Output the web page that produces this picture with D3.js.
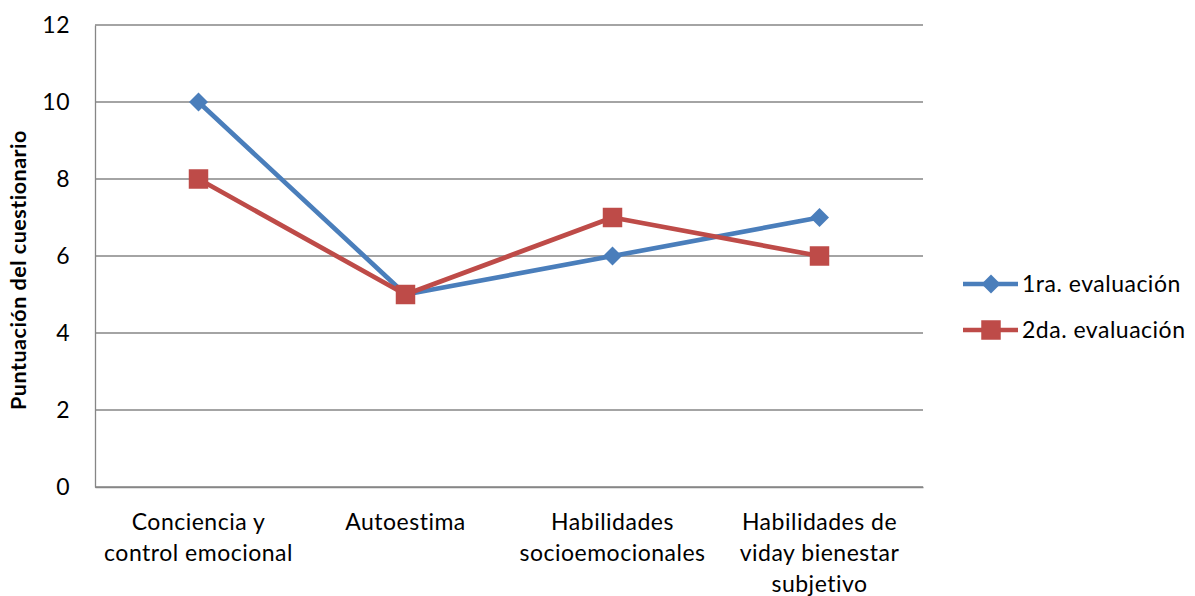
<!DOCTYPE html>
<html>
<head>
<meta charset="utf-8">
<script src="https://cdn.jsdelivr.net/npm/d3@7"></script>
<style>
  body { margin: 0; background: #fff; }
  svg { display: block; }
  text { font-family: Lato, "Open Sans", "Liberation Sans", sans-serif; letter-spacing: 0.5px; }
</style>
</head>
<body>
<svg id="chart" width="1195" height="596"></svg>
<script>
const categories = [
  ["Conciencia y", "control emocional"],
  ["Autoestima"],
  ["Habilidades", "socioemocionales"],
  ["Habilidades de", "viday bienestar", "subjetivo"]
];
const categoryKeys = ["c1", "c2", "c3", "c4"];
const seriesNames = ["1ra. evaluación", "2da. evaluación"];
const eval1 = [10, 5, 6, 7];
const eval2 = [8, 5, 7, 6];
const yTicks = [0, 2, 4, 6, 8, 10, 12];
const colors = ["#4A7EBB", "#BE4B48"];

const FS = 23;
const svg = d3.select("#chart");
const plot = { left: 95, right: 923, top: 25, bottom: 487 };

const x = d3.scaleBand().domain(categoryKeys).range([plot.left, plot.right]);
const y = d3.scaleLinear().domain([0, 12]).range([plot.bottom, plot.top]);

// horizontal gridlines
svg.append("g").selectAll("line").data(yTicks).join("line")
  .attr("x1", plot.left).attr("x2", plot.right)
  .attr("y1", d => y(d)).attr("y2", d => y(d))
  .attr("stroke", "#868686").attr("stroke-width", 1.3);

// y axis
const yAxis = svg.append("g").attr("transform", `translate(${plot.left},0)`)
  .call(d3.axisLeft(y).tickValues(yTicks).tickSize(0).tickPadding(25));
yAxis.attr("font-family", null).attr("font-size", null);
yAxis.select(".domain").attr("stroke", "#868686").attr("stroke-width", 1.3);
yAxis.selectAll("text").attr("font-size", FS).attr("fill", "#000");

// x axis labels (multi-line)
const xAxis = svg.append("g").attr("transform", `translate(0,${plot.bottom})`)
  .call(d3.axisBottom(x).tickSize(0).tickFormat(""));
xAxis.attr("font-family", null).attr("font-size", null);
xAxis.select(".domain").attr("stroke", "#868686").attr("stroke-width", 1.3);
xAxis.selectAll(".tick").each(function(d, i) {
  const t = d3.select(this).append("text")
    .attr("text-anchor", "middle").attr("font-size", FS).attr("fill", "#000");
  categories[i].forEach((line, j) => {
    t.append("tspan").attr("x", 0).attr("y", 43 + j * 31).text(line);
  });
});

// y title
svg.append("text")
  .attr("transform", `translate(26,${(plot.top + plot.bottom) / 2 + 14}) rotate(-90)`)
  .attr("text-anchor", "middle").attr("font-size", 21.5).attr("font-weight", "bold")
  .style("letter-spacing", "0.5px")
  .text("Puntuación del cuestionario");

const cx = k => x(k) + x.bandwidth() / 2;
const line = d3.line().x((d, i) => cx(categoryKeys[i])).y(d => y(d));

const diamond = d3.symbol().type(d3.symbolDiamond2).size(230);
const square = d3.symbol().type(d3.symbolSquare).size(380);

[eval1, eval2].forEach((vals, s) => {
  svg.append("path").datum(vals).attr("d", line)
    .attr("fill", "none").attr("stroke", colors[s]).attr("stroke-width", 4.7)
    .attr("stroke-linejoin", "round");
});
[eval1, eval2].forEach((vals, s) => {
  svg.append("g").selectAll("path").data(vals).join("path")
    .attr("d", s === 0 ? diamond : square)
    .attr("transform", (d, i) => `translate(${cx(categoryKeys[i])},${y(d)})`)
    .attr("fill", colors[s]);
});

// legend
const legend = svg.append("g");
seriesNames.forEach((name, s) => {
  const ly = 284 + s * 46;
  const g = legend.append("g").attr("transform", `translate(963,${ly})`);
  g.append("line").attr("x1", 0).attr("x2", 55).attr("y1", 0).attr("y2", 0)
    .attr("stroke", colors[s]).attr("stroke-width", 4.7);
  g.append("path").attr("d", s === 0 ? diamond : square)
    .attr("transform", "translate(28,0)").attr("fill", colors[s]);
  g.append("text").attr("x", 59).attr("y", 8).attr("font-size", FS).text(name);
});
</script>
</body>
</html>
